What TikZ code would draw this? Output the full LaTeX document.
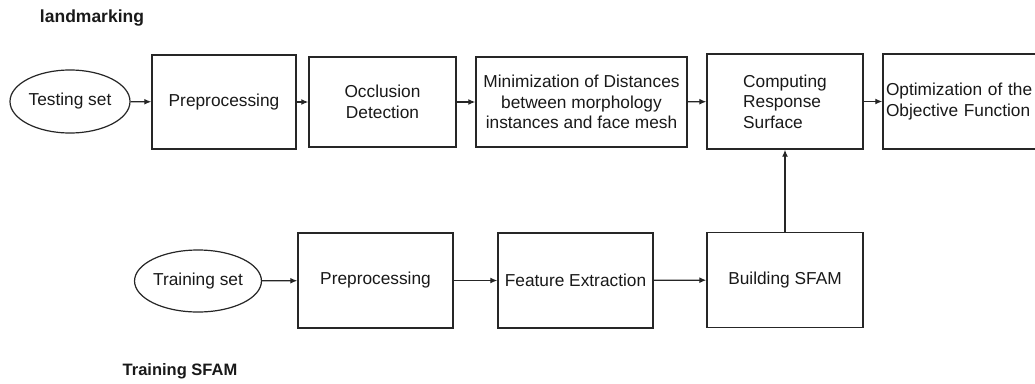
\documentclass[tikz,border=0pt]{standalone}
\usepackage{fontspec}
\setmainfont{Liberation Sans}
\usetikzlibrary{arrows.meta,shapes.geometric}
\begin{document}
\begin{tikzpicture}[x=1pt,y=-1pt,
  every node/.style={font=\fontsize{17.3}{20.5}\selectfont, text=black!90},
  procbox/.style={draw=black!85, line width=1.4pt, rectangle, inner sep=2pt, align=center},
  setell/.style={draw=black!85, line width=1.2pt, ellipse, inner sep=0pt},
  flow/.style={draw=black!85, line width=1.3pt, -{Latex[length=7pt,width=6pt]}},
  heading/.style={font=\bfseries\fontsize{17.5}{20}\selectfont}
]
\clip (0,0) rectangle (1035,383);
\fill[white] (0,0) rectangle (1035,383);

% headings
\node[heading] (hl) at (92,18) {landmarking};
\node[heading, font=\bfseries\fontsize{16.5}{20}\selectfont] (ht) at (180,371) {Training SFAM};

% top row
\node[setell, minimum width=120pt, minimum height=63pt] (ts) at (70,101.5) {Testing set};
\node[procbox, minimum width=144pt, minimum height=94pt] (p1) at (224,102) {Preprocessing};
\node[procbox, minimum width=147pt, minimum height=90pt] (oc) at (382.5,102) {Occlusion\\Detection};
\node[procbox, minimum width=211pt, minimum height=90pt] (mi) at (581.5,102) {Minimization of Distances\\between morphology\\instances and face mesh};
\node[procbox, minimum width=156pt, minimum height=95pt, align=left] (cr) at (785,101.5) {Computing\\Response\\Surface};
\node[procbox, minimum height=95pt, text width=154pt, inner xsep=3pt, align=left] (op) at (963,101.5) {Optimization of the\\Objective Function};

% bottom row
\node[setell, minimum width=110pt, minimum height=62pt] (tr) at (198,281) {Training set};
\node[procbox, minimum width=155pt, minimum height=95pt] (p2) at (375.5,280.5) {Preprocessing};
\node[procbox, minimum width=155pt, minimum height=95pt] (fe) at (575.5,280.5) {Feature Extraction};
\node[procbox, minimum width=156pt, minimum height=95pt] (bs) at (785,280) {Building SFAM};

% connectors
\draw[flow] (ts) -- (p1);
\draw[flow] (p1) -- (oc);
\draw[flow] (oc) -- (mi);
\draw[flow] (mi) -- (cr);
\draw[flow] (cr) -- (op);
\draw[flow] (tr) -- (p2);
\draw[flow] (p2) -- (fe);
\draw[flow] (fe) -- (bs);
\draw[flow] (bs) -- (cr);
\end{tikzpicture}
\end{document}
